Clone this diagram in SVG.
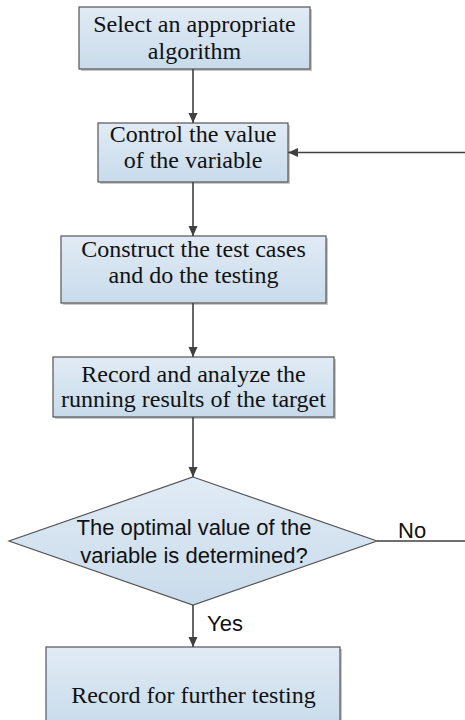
<svg xmlns="http://www.w3.org/2000/svg" width="465" height="720" viewBox="0 0 465 720">
<defs>
<linearGradient id="g" x1="0" y1="0" x2="0" y2="1">
<stop offset="0" stop-color="#e1ebf5"/>
<stop offset="1" stop-color="#c8dbeb"/>
</linearGradient>
<marker id="ah" markerWidth="10" markerHeight="10" viewBox="0 0 10 10" refX="10" refY="5" orient="auto" markerUnits="userSpaceOnUse">
<path d="M0,0.5 L10,5 L0,9.5 Z" fill="#404040"/>
</marker>
<style>
.box{fill:url(#g);stroke:#555;stroke-width:1.2}
.sh{fill:#c8c8c8}
.t{font-family:"Liberation Serif","Times New Roman",serif;font-size:24px;fill:#111;text-anchor:middle}
.s{font-family:"Liberation Sans",Arial,sans-serif;font-size:22px;fill:#111}
.c{stroke:#404040;stroke-width:1.6;fill:none}
</style>
</defs>
<g id="n1">
<rect class="sh" x="81" y="9" width="231" height="62"/>
<rect class="box" x="79" y="7" width="231" height="62"/>
<text class="t" x="194.5" y="32">Select an appropriate</text>
<text class="t" x="194.5" y="59">algorithm</text>
</g>
<g id="n2">
<rect class="sh" x="100" y="125" width="190" height="59"/>
<rect class="box" x="98" y="123" width="190" height="59"/>
<text class="t" x="193" y="142">Control the value</text>
<text class="t" x="193" y="168">of the variable</text>
</g>
<g id="n3">
<rect class="sh" x="63" y="238" width="265" height="67"/>
<rect class="box" x="61" y="236" width="265" height="67"/>
<text class="t" x="193.5" y="257">Construct the test cases</text>
<text class="t" x="193.5" y="283">and do the testing</text>
</g>
<g id="n4">
<rect class="sh" x="55" y="359" width="281" height="60"/>
<rect class="box" x="53" y="357" width="281" height="60"/>
<text class="t" x="193.5" y="382">Record and analyze the</text>
<text class="t" x="193.5" y="407">running results of the target</text>
</g>
<g id="n5">
<polygon points="193,477 377,541 193,605 9,541" class="box"/>
<text class="s" x="194" y="535" text-anchor="middle">The optimal value of the</text>
<text class="s" x="194" y="563" text-anchor="middle">variable is determined?</text>
</g>
<g id="n6">
<rect class="sh" x="48" y="649" width="294" height="80"/>
<rect class="box" x="46" y="647" width="294" height="80"/>
<text class="t" x="193.5" y="703">Record for further testing</text>
</g>
<g id="connectors">
<line class="c" x1="193" y1="69" x2="193" y2="123" marker-end="url(#ah)"/>
<line class="c" x1="193" y1="182" x2="193" y2="236" marker-end="url(#ah)"/>
<line class="c" x1="193" y1="303" x2="193" y2="357" marker-end="url(#ah)"/>
<line class="c" x1="193" y1="417" x2="193" y2="477" marker-end="url(#ah)"/>
<line class="c" x1="193" y1="605" x2="193" y2="647" marker-end="url(#ah)"/>
<line class="c" x1="377" y1="541" x2="465" y2="541"/>
<line class="c" x1="465" y1="152.5" x2="288" y2="152.5" marker-end="url(#ah)"/>
<text class="s" x="398" y="538">No</text>
<text class="s" x="207" y="631">Yes</text>
</g>
</svg>
